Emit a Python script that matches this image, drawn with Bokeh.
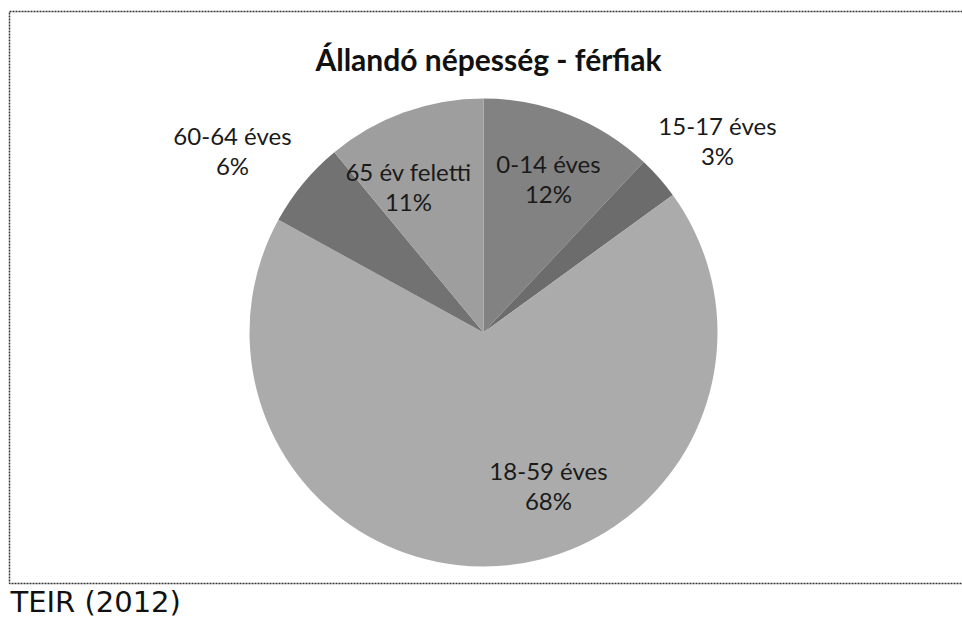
import math
from bokeh.plotting import figure
from bokeh.models import Range1d, ColumnDataSource
from bokeh.core.properties import value
from bokeh.embed import file_html
from bokeh.resources import INLINE

categories = ["0-14 éves", "15-17 éves", "18-59 éves", "60-64 éves", "65 év feletti"]
shares = [12, 3, 68, 6, 11]
colors = ["#828282", "#6c6c6c", "#ababab", "#727272", "#9e9e9e"]
title_text = "Állandó népesség - férfiak"
source_text = "TEIR (2012)"

W, H = 962, 620


def X(sx):
    return sx


def Y(sy):
    return H - sy


p = figure(width=W, height=H, output_backend="svg", toolbar_location=None,
           x_range=Range1d(0, W), y_range=Range1d(0, H), min_border=0)
p.axis.visible = False
p.grid.visible = False
p.outline_line_color = None
p.background_fill_color = "white"
p.border_fill_color = "white"

cx, cy, r = X(483), Y(332), 234
total = sum(shares)
starts, ends = [], []
acc = 0.0
for s in shares:
    a0 = math.pi / 2 - 2 * math.pi * acc / total
    acc += s
    a1 = math.pi / 2 - 2 * math.pi * acc / total
    starts.append(a0)
    ends.append(a1)

src = ColumnDataSource(dict(start=starts, end=ends, color=colors))
p.wedge(x=cx, y=cy, radius=r, start_angle="start", end_angle="end",
        direction="clock", fill_color="color", line_color=None, source=src)

# frame
p.quad(left=X(9), right=W + 20, top=Y(11), bottom=Y(583), fill_color=None,
       line_color="#333333", line_width=1.5, line_dash="2 1")

# title
p.text(x=[X(488)], y=[Y(58)], text=[title_text], text_font=value("Lato"),
       text_font_style="bold", text_font_size="30px", text_align="center",
       text_baseline="middle", text_color="#111111")

# labels (centre of each two-line block, screen px)
lab_x = [548, 717, 548, 232, 408]
lab_y = [178, 140, 485, 150, 186]
lab_txt = [f"{c}\n{s}%" for c, s in zip(categories, shares)]
p.text(x=[X(v) for v in lab_x], y=[Y(v) for v in lab_y], text=lab_txt,
       text_font=value("Lato"), text_font_size="24px", text_align="center",
       text_baseline="middle", text_color="#1a1a1a", text_line_height=1.05)

# source
p.text(x=[X(10)], y=[Y(618)], text=[source_text], text_font=value("DejaVu Sans"),
       text_font_size="29px", text_align="left", text_baseline="bottom",
       text_color="#111111")

open("out.html", "w").write(file_html(p, INLINE))
